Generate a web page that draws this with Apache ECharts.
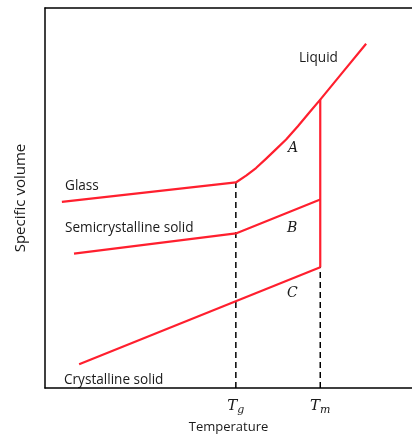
<!DOCTYPE html>
<html>
<head>
<meta charset="utf-8">
<script src="https://cdn.jsdelivr.net/npm/echarts@6/dist/echarts.min.js"></script>
<style>
  html, body { margin: 0; padding: 0; background: #fff; }
  #chart { width: 412px; height: 439px; }
</style>
</head>
<body>
<div id="chart"></div>
<script>
// arbitrary units: temperature 0..100, specific volume 0..100
const Tg = 52
const Tm = 75
const glass = [[4.6, 49.0], [Tg, 54.1]]
const liquid = [[Tg, 54.1], [54.8, 55.9], [57.5, 57.9], [60.2, 60.3], [62.9, 62.8], [65.7, 65.4], [68.9, 68.9], [72.2, 72.7], [Tm, 75.9], [81.2, 83.2], [87.5, 90.6]]
const semicrystalline = [[7.9, 35.4], [Tg, 40.7], [Tm, 49.6]]
const crystalline = [[9.3, 6.3], [Tm, 31.8]]
const meltJump = [[Tm, 31.8], [Tm, 75.9]]
const tgGuide = [[Tg, 0], [Tg, 54.1]]
const tmGuide = [[Tm, 0], [Tm, 31.8]]
const tickValues = [Tg, Tm]
const tickNames = ['{t|T}{s|g}', '{t|T}{s|m}']

const red = '#ff1f2e'
const ink = '#1a1a1a'
const sans = 'Open Sans'
const serif = 'DejaVu Serif'

const chart = echarts.init(document.getElementById('chart'))

function redLine(data) {
  return {
    type: 'line', data: data, showSymbol: false,
    lineStyle: { color: red, width: 2.2, join: 'round' }, silent: true
  }
}
function dashLine(data) {
  return {
    type: 'line', data: data, showSymbol: false,
    lineStyle: { color: '#000', width: 1.5, type: [6, 4] }, silent: true
  }
}

function txt(text, left, top, style) {
  return { type: 'text', left: left, top: top,
    style: Object.assign({ text: text, fill: ink, font: '13.6px "' + sans + '"' }, style || {}) }
}

chart.setOption({
  animation: false,
  grid: { left: 45, right: 0, top: 8, bottom: 47 },
  xAxis: [{
    type: 'value', min: 0, max: 100,
    name: 'Temperature', nameLocation: 'middle', nameGap: 32,
    nameTextStyle: { fontFamily: sans, fontSize: 13, color: ink },
    axisLine: { show: true, lineStyle: { color: '#000', width: 1.5 } },
    axisTick: { show: false },
    splitLine: { show: false },
    axisLabel: {
      customValues: tickValues, margin: 9,
      formatter: function (v) { return tickNames[tickValues.indexOf(v)] },
      rich: {
        t: { fontFamily: serif, fontStyle: 'italic', fontSize: 15, color: ink },
        s: { fontFamily: serif, fontStyle: 'italic', fontSize: 11, color: ink, verticalAlign: 'bottom', padding: [8, 0, 0, 0] }
      }
    }
  }, {
    // top frame line
    type: 'value', min: 0, max: 100, position: 'top',
    axisLine: { show: true, lineStyle: { color: '#000', width: 1.5 } },
    axisTick: { show: false }, axisLabel: { show: false }, splitLine: { show: false }
  }],
  yAxis: {
    type: 'value', min: 0, max: 100,
    name: 'Specific volume', nameLocation: 'middle', nameGap: 17, nameRotate: 90,
    nameTextStyle: { fontFamily: sans, fontSize: 15, color: ink },
    axisLine: { show: true, lineStyle: { color: '#000', width: 1.5 } },
    axisTick: { show: false }, axisLabel: { show: false }, splitLine: { show: false }
  },
  series: [
    dashLine(tgGuide),
    dashLine(tmGuide),
    redLine(glass),
    redLine(liquid),
    redLine(semicrystalline),
    redLine(crystalline),
    redLine(meltJump)
  ],
  graphic: [
    txt('Liquid', 299, 51),
    txt('Glass', 65, 179),
    txt('Semicrystalline solid', 65, 221),
    txt('Crystalline solid', 64, 373),
    txt('A', 288, 141, { font: 'italic 14px "' + serif + '"' }),
    txt('B', 287, 221, { font: 'italic 14px "' + serif + '"' }),
    txt('C', 287, 286, { font: 'italic 14px "' + serif + '"' })
  ]
})
</script>
</body>
</html>
